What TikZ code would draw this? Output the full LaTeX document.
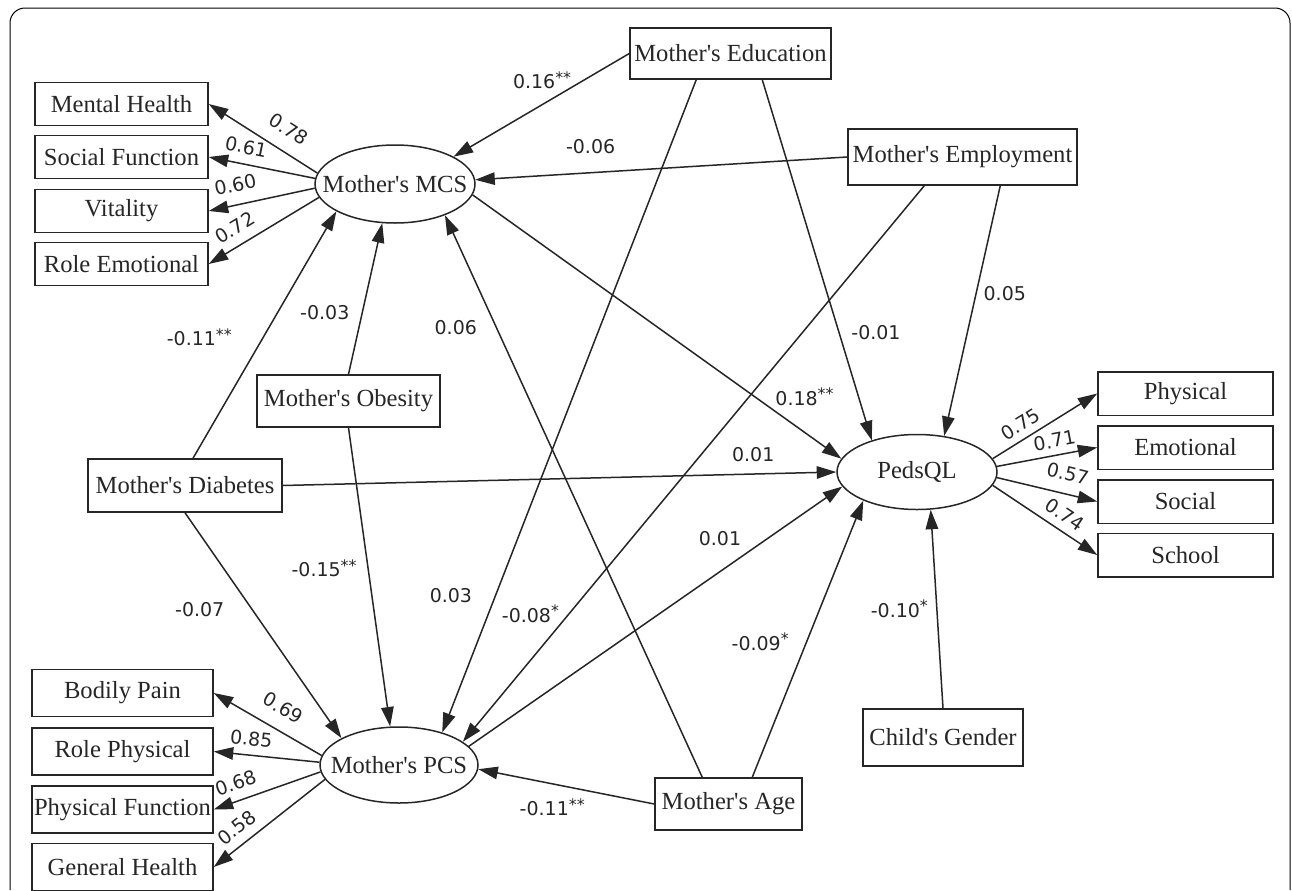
\documentclass[tikz,border=0pt]{standalone}
\usepackage{fontspec}
\usepackage{tikz}
\usetikzlibrary{arrows.meta}
\usetikzlibrary{shapes.geometric}
\newfontfamily\semserif{Liberation Serif}
\newfontfamily\semsans{DejaVu Sans}
\newcommand{\sigmark}[1]{\raisebox{0.3em}{\fontsize{9}{9}\selectfont #1}}
\tikzset{>={Triangle[length=3.9mm, width=2.5mm]}}
\tikzset{obs/.style = {draw, rectangle, inner sep=0,
                       font=\semserif\fontsize{14}{16}\selectfont}}
\tikzset{lat/.style = {draw, ellipse, inner sep=0, inner xsep=-4mm,
                       font=\semserif\fontsize{14}{16}\selectfont}}
\tikzset{coef/.style = {font=\semsans\fontsize{10.8}{12}\selectfont, inner sep=1pt}}

\begin{document}
\begin{tikzpicture}[x=0.2mm, y=-0.2mm, line width=0.3mm, color=black!85]
      \useasboundingbox (0,0) rectangle (1292,890);
      \draw [line width=0.2mm, color=black, rounded corners=3mm] (10,890) |- (1290,8) -- (1290,890);
      % latent variables
      \node [lat, minimum width=32mm, minimum height=15.6mm] (mcs) at (395, 184) {Mother's MCS};
      \node [lat, minimum width=31.6mm, minimum height=15.2mm] (pcs) at (399, 765) {Mother's PCS};
      \node [lat, minimum width=32mm, minimum height=15mm] (peds) at (917, 472) {PedsQL};
      % indicators
      \node [obs, minimum width=34.6mm, minimum height=8.6mm] (mh) at (121.5, 104) {Mental Health};
      \node [obs, minimum width=34.6mm, minimum height=8.6mm] (sf) at (121.5, 157) {Social Function};
      \node [obs, minimum width=34.6mm, minimum height=8.6mm] (vit) at (121.5, 211) {Vitality};
      \node [obs, minimum width=34.6mm, minimum height=8.6mm] (re) at (121.5, 264) {Role Emotional};
      \node [obs, minimum width=36.2mm, minimum height=9.4mm] (bp) at (122.5, 693) {Bodily Pain};
      \node [obs, minimum width=36.2mm, minimum height=9.4mm] (rp) at (122.5, 751.5) {Role Physical};
      \node [obs, minimum width=36.2mm, minimum height=9.4mm] (pf) at (122.5, 809.5) {Physical Function};
      \node [obs, minimum width=36.2mm, minimum height=9.4mm] (gh) at (122.5, 867) {General Health};
      \node [obs, minimum width=35mm, minimum height=8.7mm] (phy) at (1185.5, 393.5) {Physical};
      \node [obs, minimum width=35mm, minimum height=8.7mm] (emo) at (1185.5, 447.5) {Emotional};
      \node [obs, minimum width=35mm, minimum height=8.7mm] (soc) at (1185.5, 501.5) {Social};
      \node [obs, minimum width=35mm, minimum height=8.7mm] (sch) at (1185.5, 555) {School};
      % covariates
      \node [obs, minimum width=40.2mm, minimum height=10.2mm] (edu) at (730.5, 53.5) {Mother's Education};
      \node [obs, minimum width=45.8mm, minimum height=11.2mm] (emp) at (962.5, 157) {Mother's Employment};
      \node [obs, minimum width=36.6mm, minimum height=10.4mm] (obe) at (348.5, 401) {Mother's Obesity};
      \node [obs, minimum width=38.8mm, minimum height=10.6mm] (diab) at (185, 485.5) {Mother's Diabetes};
      \node [obs, minimum width=29.4mm, minimum height=10.4mm] (age) at (728.5, 804) {Mother's Age};
      \node [obs, minimum width=32mm, minimum height=11.4mm] (gen) at (943, 737.5) {Child's Gender};
      % loadings
      \draw [->] (mcs.172) -- (mh.east) node [coef, pos=0.37, sloped, above=2.4mm] {0.78};
      \draw [->] (mcs.176) -- (sf.east) node [coef, pos=0.68, sloped, above=1.5mm] {0.61};
      \draw [->] (mcs.183) -- (vit.east) node [coef, pos=0.71, sloped, above=2.1mm] {0.60};
      \draw [->] (mcs.190) -- (re.east) node [coef, pos=0.68, sloped, above=1.6mm] {0.72};
      \draw [->] (pcs.173) -- (bp.east) node [coef, pos=0.46, sloped, above=2.5mm] {0.69};
      \draw [->] (pcs.178) -- (rp.east) node [coef, pos=0.66, sloped, above=1.4mm] {0.85};
      \draw [->] (pcs.185) -- (pf.east) node [coef, pos=0.74, sloped, above=1.6mm] {0.68};
      \draw [->] (pcs.191) -- (gh.east) node [coef, pos=0.7, sloped, above=1.4mm] {0.58};
      \draw [->] (peds.10) -- (phy.west) node [coef, pos=0.34, sloped, above=1mm] {0.75};
      \draw [->] (peds.4) -- (emo.west) node [coef, pos=0.6, sloped, above=1mm] {0.71};
      \draw [->] (peds.356) -- (soc.west) node [coef, pos=0.66, sloped, above=2.1mm] {0.57};
      \draw [->] (peds.350) -- (sch.west) node [coef, pos=0.61, sloped, above=1.2mm] {0.74};
      % paths
      \draw [->] (edu.west) -- (mcs.25) node [coef, pos=0.26, left=2mm] {0.16\sigmark{**}};
      \draw [->] (emp.west) -- (mcs.3) node [coef, pos=0.69, above=3.2mm] {-0.06};
      \draw [->] ([xshift=13.4mm]edu.south west) -- (pcs.37) node [coef, pos=0.79, left=4.2mm] {0.03};
      \draw [->] ([xshift=26.6mm]edu.south west) -- (peds.145) node [coef, pos=0.7, right=2mm] {-0.01};
      \draw [->] ([xshift=15.4mm]emp.south west) -- (pcs.20) node [coef, pos=0.77, left=1.5mm] {-0.08\sigmark{*}};
      \draw [->] ([xshift=30.6mm]emp.south west) -- (peds.53) node [coef, pos=0.43, right=1mm] {0.05};
      \draw [->] (mcs.352) -- (peds.170) node [coef, pos=0.9, above=4.8mm] {0.18\sigmark{**}};
      \draw [->] ([xshift=1.6mm]diab.north) -- (mcs.205) node [coef, pos=0.49, left=5.8mm] {-0.11\sigmark{**}};
      \draw [->] (obe.north) -- (mcs.252) node [coef, pos=0.41, left=2.1mm] {-0.03};
      \draw [->] ([xshift=9.6mm]age.south west |- age.north) -- (mcs.328) node [coef, pos=0.8, left=3.4mm] {0.06};
      \draw [->] (diab.east) -- (peds.west) node [coef, pos=0.85, above=2mm] {0.01};
      \draw [->] (diab.south) -- (pcs.155) node [coef, pos=0.43, left=5.1mm] {-0.07};
      \draw [->] (obe.south) -- (pcs.103) node [coef, pos=0.47, left=1.8mm] {-0.15\sigmark{**}};
      \draw [->] (pcs.15) -- (peds.191) node [coef, pos=0.8, left=4.8mm] {0.01};
      \draw [->] (age.west) -- (pcs.357) node [coef, pos=0.58, below=2.4mm] {-0.11\sigmark{**}};
      \draw [->] ([xshift=19.6mm]age.south west |- age.north) -- (peds.208) node [coef, pos=0.49, left=3.1mm] {-0.09\sigmark{*}};
      \draw [->] (gen.north) -- (peds.290) node [coef, pos=0.5, left=1.3mm] {-0.10\sigmark{*}};
    \end{tikzpicture}
\end{document}
